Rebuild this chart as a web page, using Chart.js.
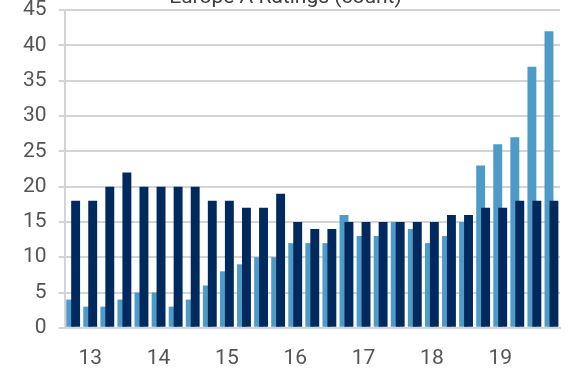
<!DOCTYPE html>
<html>
<head>
<meta charset="utf-8">
<script src="https://cdn.jsdelivr.net/npm/chart.js@4/dist/chart.umd.min.js"></script>
<style>
  html, body { margin: 0; padding: 0; background: #ffffff; }
  #frame { position: relative; width: 574px; height: 383px; overflow: hidden; }
  #wrap { position: absolute; left: 0; top: -18px; width: 574px; height: 401px; }
</style>
</head>
<body>
<div id="frame"><div id="wrap"><canvas id="c"></canvas></div></div>
<script>
// Quarterly categories (4Q12 .. 4Q19)
const quarters = [
  '4Q12',
  '1Q13','2Q13','3Q13','4Q13',
  '1Q14','2Q14','3Q14','4Q14',
  '1Q15','2Q15','3Q15','4Q15',
  '1Q16','2Q16','3Q16','4Q16',
  '1Q17','2Q17','3Q17','4Q17',
  '1Q18','2Q18','3Q18','4Q18',
  '1Q19','2Q19','3Q19','4Q19'
];
// Light blue series
const seriesLight = [4,3,3,4,5,5,3,4,6,8,9,10,10,12,12,12,16,13,13,15,14,12,13,15,23,26,27,37,42];
// Dark navy series
const seriesDark  = [18,18,20,22,20,20,20,20,18,18,17,17,19,15,14,14,15,15,15,15,15,15,16,16,17,17,18,18,18];
// Y-axis ticks
const yTicks = [0,5,10,15,20,25,30,35,40,45];
const titleText = 'Europe A Ratings (count)';

const drawOrder = {
  id: 'drawOrder',
  beforeDatasetsDraw(chart) {
    // light first, dark on top (overlapping bars)
    for (let i = 0; i < chart.data.datasets.length; i++) {
      chart.getDatasetMeta(i).controller.draw();
    }
    return false;
  }
};

const fontFam = 'Roboto, "Liberation Sans", sans-serif';

new Chart(document.getElementById('c'), {
  type: 'bar',
  data: {
    labels: quarters,
    datasets: [
      { label: 'Light', data: seriesLight, backgroundColor: '#4f9bc7',
        categoryPercentage: 0.58, barPercentage: 1.8 },
      { label: 'Dark', data: seriesDark, backgroundColor: '#002a5e',
        categoryPercentage: 0.58, barPercentage: 1.8 }
    ]
  },
  options: {
    responsive: true,
    maintainAspectRatio: false,
    animation: false,
    layout: { padding: { right: 14, left: 11, bottom: 2 } },
    plugins: {
      legend: { display: false },
      tooltip: { enabled: false },
      title: {
        display: true, text: titleText, color: '#404040',
        font: { family: fontFam, size: 21, weight: 'normal' },
        padding: { top: 3, bottom: 0 }
      }
    },
    scales: {
      x: {
        grid: { display: false },
        border: { display: true, color: '#d4d4d4', width: 2 },
        ticks: {
          autoSkip: false, maxRotation: 0, minRotation: 0,
          color: '#555555', padding: 10,
          font: { family: fontFam, size: 21 },
          callback: function(v, i) {
            const q = quarters[i];
            return q.startsWith('1Q') ? q.slice(2) : '';
          }
        }
      },
      y: {
        min: 0, max: 45,
        afterBuildTicks: (axis) => { axis.ticks = yTicks.map(v => ({ value: v })); },
        grid: { color: '#d4d4d4', lineWidth: 2, tickLength: 6, drawTicks: true },
        border: { display: true, color: '#d4d4d4', width: 2 },
        ticks: {
          color: '#555555', padding: 12,
          font: { family: fontFam, size: 21 }
        }
      }
    }
  },
  plugins: [drawOrder]
});
</script>
</body>
</html>
